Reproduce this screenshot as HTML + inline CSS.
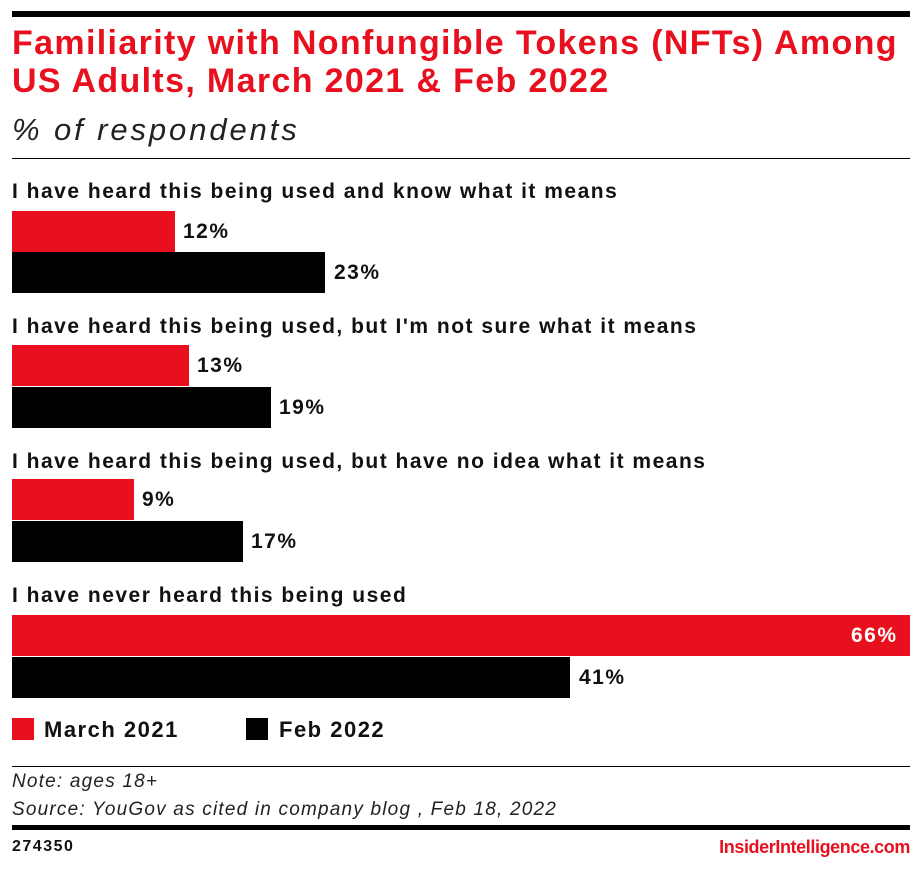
<!DOCTYPE html>
<html><head><style>
body{margin:0;width:922px;height:869px;background:#fff;font-family:"Liberation Sans",sans-serif;position:relative;overflow:hidden}
.a{position:absolute}
.t{left:12px;font-weight:bold;color:#e8101e;font-size:34px;line-height:38px;top:24px;letter-spacing:1.35px}
.lab{left:12px;font-weight:bold;font-size:21px;color:#111;letter-spacing:1.5px}
.r{background:#e8101e;left:12px;height:41px}
.k{background:#000;left:12px;height:41px}
.v{font-weight:bold;font-size:21px;color:#111;letter-spacing:1.5px}
</style></head><body>
<div class="a" style="left:12px;top:11px;width:898px;height:6px;background:#000"></div>
<div class="a t">Familiarity with Nonfungible Tokens (NFTs) Among<br>US Adults, March 2021 &amp; Feb 2022</div>
<div class="a" style="left:12px;top:112px;font-size:31px;font-style:italic;color:#222;letter-spacing:2.9px">% of respondents</div>
<div class="a" style="left:12px;top:158px;width:898px;height:1px;background:#000"></div>

<div class="a lab" style="top:180px">I have heard this being used and know what it means</div>
<div class="a r" style="top:211px;width:163px"></div><div class="a v" style="left:183px;top:220px">12%</div>
<div class="a k" style="top:252px;width:313px"></div><div class="a v" style="left:334px;top:261px">23%</div>

<div class="a lab" style="top:315px">I have heard this being used, but I'm not sure what it means</div>
<div class="a r" style="top:345px;width:177px"></div><div class="a v" style="left:197px;top:354px">13%</div>
<div class="a k" style="top:387px;width:259px"></div><div class="a v" style="left:279px;top:396px">19%</div>

<div class="a lab" style="top:450px">I have heard this being used, but have no idea what it means</div>
<div class="a r" style="top:479px;width:122px"></div><div class="a v" style="left:142px;top:488px">9%</div>
<div class="a k" style="top:521px;width:231px"></div><div class="a v" style="left:251px;top:530px">17%</div>

<div class="a lab" style="top:584px">I have never heard this being used</div>
<div class="a r" style="top:615px;width:898px"></div><div class="a v" style="left:851px;top:624px;color:#fff">66%</div>
<div class="a k" style="top:657px;width:558px"></div><div class="a v" style="left:579px;top:666px">41%</div>

<div class="a" style="left:12px;top:718px;width:22px;height:22px;background:#e8101e"></div>
<div class="a v" style="left:44px;top:717px;font-size:22px">March 2021</div>
<div class="a" style="left:246px;top:718px;width:22px;height:22px;background:#000"></div>
<div class="a v" style="left:279px;top:717px;font-size:22px">Feb 2022</div>

<div class="a" style="left:12px;top:766px;width:898px;height:1px;background:#000"></div>
<div class="a" style="left:12px;top:768px;font-size:19px;font-style:italic;color:#222;line-height:28px;letter-spacing:1.2px">Note: ages 18+<br>Source: YouGov as cited in company blog , Feb 18, 2022</div>
<div class="a" style="left:12px;top:825px;width:898px;height:5px;background:#000"></div>
<div class="a" style="left:12px;top:838px;font-size:16px;font-weight:bold;color:#111;letter-spacing:1.5px">274350</div>
<div class="a" style="right:12px;top:837px;font-size:18px;font-weight:bold;color:#e8101e;letter-spacing:-0.4px">InsiderIntelligence.com</div>
</body></html>
